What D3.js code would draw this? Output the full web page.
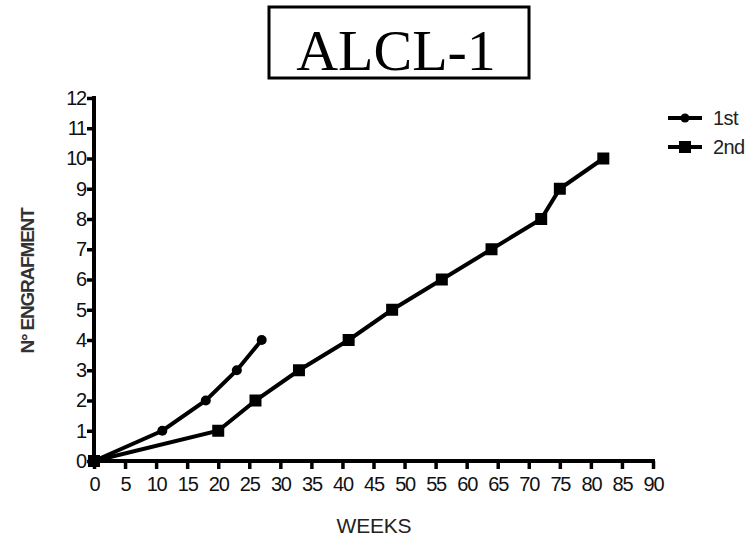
<!DOCTYPE html>
<html><head><meta charset="utf-8">
<script src="https://cdn.jsdelivr.net/npm/d3@7"></script>
<style>body{margin:0;background:#fff}svg{display:block}</style>
</head><body><svg id="c" width="753" height="538"></svg>
<script>
const title = "ALCL-1";
const xLabel = "WEEKS";
const yLabel = "N° ENGRAFMENT";
const xTicks = [0,5,10,15,20,25,30,35,40,45,50,55,60,65,70,75,80,85,90];
const yTicks = [0,1,2,3,4,5,6,7,8,9,10,11,12];
const firstWeeks = [0,11,18,23,27];
const firstValues = [0,1,2,3,4];
const secondWeeks = [0,20,26,33,41,48,56,64,72,75,82];
const secondValues = [0,1,2,3,4,5,6,7,8,9,10];
const seriesNames = ["1st","2nd"];

const svg = d3.select("#c");
const x = d3.scaleLinear().domain([0,90]).range([94,653]);
const y = d3.scaleLinear().domain([0,12]).range([461,98]);
const tickFont = "Arial, 'Liberation Sans', sans-serif";

// title box
svg.append("rect").attr("x",269).attr("y",7).attr("width",260).attr("height",71)
  .attr("fill","none").attr("stroke","#000").attr("stroke-width",3);
svg.append("text").attr("x",396).attr("y",70).attr("text-anchor","middle")
  .attr("font-family","'Liberation Serif','Times New Roman',serif").attr("font-size",58)
  .text(title);

// axes
const xAxis = svg.append("g").attr("transform",`translate(0,${y(0)})`)
  .call(d3.axisBottom(x).tickValues(xTicks).tickSize(8).tickPadding(8).tickFormat(d3.format("d")));
const yAxis = svg.append("g").attr("transform",`translate(${x(0)},0)`)
  .call(d3.axisLeft(y).tickValues(yTicks).tickSize(7).tickPadding(1).tickFormat(d3.format("d")));
[xAxis,yAxis].forEach(g=>{
  g.select(".domain").attr("stroke","#000").attr("stroke-width",4).attr("stroke-linecap","square");
  g.selectAll(".tick line").attr("stroke","#000").attr("stroke-width",3.5);
  g.selectAll(".tick text").attr("fill","#111").attr("font-family",tickFont)
    .attr("font-size",20).attr("letter-spacing",-1.2);
});
xAxis.select(".domain").attr("d",`M${x(0)},0H${x(90)}`);
yAxis.select(".domain").attr("d",`M0,${y(0)}V${y(12)}`);

// labels
svg.append("text").attr("x",374).attr("y",533).attr("text-anchor","middle")
  .attr("font-family",tickFont).attr("font-size",21).attr("letter-spacing",-0.2).attr("fill","#222")
  .text(xLabel);
svg.append("text").attr("transform","translate(34,281) rotate(-90)").attr("text-anchor","middle")
  .attr("font-family",tickFont).attr("font-size",19).attr("font-weight","bold").attr("letter-spacing",-1.2).attr("fill","#333")
  .text(yLabel);

// lines
const line = d3.line().x(d=>x(d[0])).y(d=>y(d[1]));
const s1 = firstWeeks.map((w,i)=>[w,firstValues[i]]);
const s2 = secondWeeks.map((w,i)=>[w,secondValues[i]]);
[s1,s2].forEach(s=>{
  svg.append("path").attr("d",line(s)).attr("fill","none").attr("stroke","#000").attr("stroke-width",4);
});
svg.selectAll(".c1").data(s1).enter().append("circle")
  .attr("cx",d=>x(d[0])).attr("cy",d=>y(d[1])).attr("r",5).attr("fill","#000");
svg.selectAll(".s2").data(s2).enter().append("rect")
  .attr("x",d=>x(d[0])-6).attr("y",d=>y(d[1])-6).attr("width",12).attr("height",12).attr("fill","#000");

// legend
const lg = svg.append("g");
[[118,"circle"],[147,"square"]].forEach(([ly,shape],i)=>{
  lg.append("line").attr("x1",668).attr("x2",702).attr("y1",ly).attr("y2",ly).attr("stroke","#000").attr("stroke-width",4);
  if(shape==="circle") lg.append("circle").attr("cx",685).attr("cy",ly).attr("r",4.5);
  else lg.append("rect").attr("x",679).attr("y",ly-6).attr("width",12).attr("height",12);
  lg.append("text").attr("x",713).attr("y",ly+7).attr("font-family",tickFont).attr("font-size",20)
    .attr("letter-spacing",-0.6).attr("fill","#222").text(seriesNames[i]);
});
</script></body></html>
